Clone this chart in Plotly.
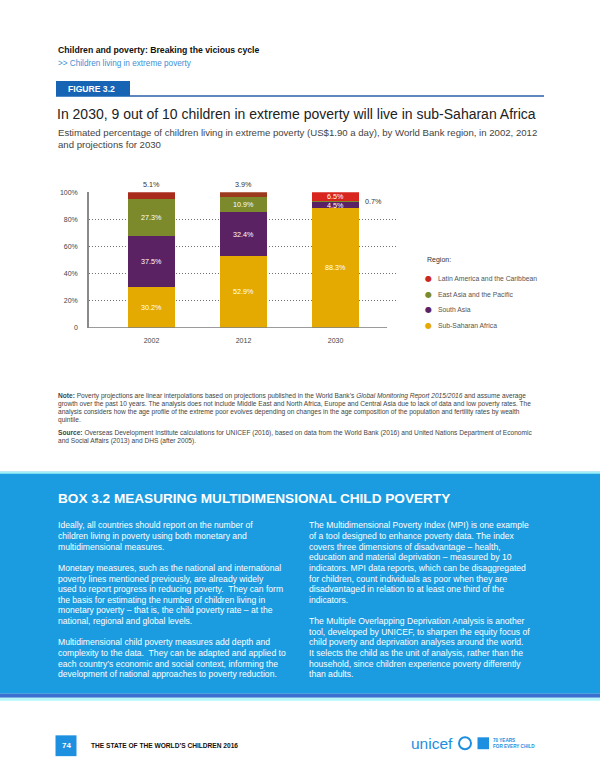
import plotly.graph_objects as go

W, H = 600, 776

# ---------------- data ----------------
years = ["2002", "2012", "2030"]
regions = ["Sub-Saharan Africa", "South Asia", "East Asia and the Pacific",
           "Latin America and the Caribbean"]
ssa = [30.2, 52.9, 88.3]
sa = [37.5, 32.4, 4.5]
eap = [27.3, 10.9, 0.7]
lac = [5.1, 3.9, 6.5]
y_tickvals = [0, 20, 40, 60, 80, 100]
y_ticktext = ["0", "20%", "40%", "60%", "80%", "100%"]

# ---------------- styles ----------------
FONT = "Liberation Sans, Arial, sans-serif"
C_SSA = "#E4AA02"
C_SA = "#5B2263"
C_EAP = "#7C8A2B"
C_LAC = ["#A82B1C", "#9C3A1E", "#D8261E"]
C_LAC_LEG = "#C8281E"
BLUE_BOX = "#1B9BE0"


def X(px):
    return px / W


def Y(py):
    return 1 - py / H


fig = go.Figure()

series = [
    (regions[0], ssa, C_SSA, ["inside"] * 3),
    (regions[1], sa, C_SA, ["inside"] * 3),
    (regions[2], eap, C_EAP, ["inside", "inside", "none"]),
    (regions[3], lac, C_LAC, ["none", "none", "inside"]),
]
for name, vals, col, tpos in series:
    fig.add_trace(go.Bar(
        x=years, y=vals, name=name, width=0.51,
        marker=dict(color=col, line=dict(width=0)),
        texttemplate="%{y:.1f}%", textposition=tpos,
        insidetextanchor="middle", constraintext="none",
        insidetextfont=dict(color="white", size=7.2, family=FONT),
        cliponaxis=False, showlegend=False, hoverinfo="skip",
    ))

annotations = []
# labels above the 2002 and 2012 bars (Latin America and the Caribbean)
for i in range(2):
    total = ssa[i] + sa[i] + eap[i] + lac[i]
    annotations.append(dict(
        x=i, y=min(total, 100), xref="x", yref="y",
        text=f"{lac[i]:.1f}%", showarrow=False, xanchor="center", yanchor="bottom",
        yshift=1, font=dict(size=7.2, color="#333333", family=FONT)))
# small-value label to the right of 2030 bar (East Asia and the Pacific)
annotations.append(dict(
    x=2, y=ssa[2] + sa[2] + eap[2] / 2, xref="x", yref="y",
    text=f"{eap[2]:.1f}%", showarrow=False, xanchor="left", yanchor="middle",
    xshift=27, font=dict(size=7.2, color="#333333", family=FONT)))

# legend drawn from regions list (top to bottom reversed order)
leg_cols = [C_LAC_LEG, C_EAP, C_SA, C_SSA]
annotations.append(dict(x=X(425), y=Y(258.3), xref="paper", yref="paper",
                        text="Region:", showarrow=False, xanchor="left",
                        yanchor="middle",
                        font=dict(size=7, color="#333", family=FONT)))
for i, (reg, col) in enumerate(zip(regions[::-1], leg_cols)):
    yy = 276.7 + 16 * i
    annotations.append(dict(x=X(428), y=Y(yy), xref="paper", yref="paper",
                            text="●", showarrow=False, xanchor="center",
                            yanchor="middle",
                            font=dict(size=8, color=col, family="DejaVu Sans")))
    annotations.append(dict(x=X(435.5), y=Y(yy), xref="paper", yref="paper",
                            text=reg, showarrow=False, xanchor="left",
                            yanchor="middle",
                            font=dict(size=6.8, color="#555", family=FONT)))


def txt(x, y, text, size, color, bold=False, anchor="left", family=FONT):
    if bold:
        text = "<b>" + text + "</b>"
    annotations.append(dict(x=X(x), y=Y(y), xref="paper", yref="paper",
                            text=text, showarrow=False, xanchor=anchor,
                            yanchor="middle",
                            font=dict(size=size, color=color, family=family)))


# header
txt(56, 46.7, "Children and poverty: Breaking the vicious cycle", 8.7, "#111111", bold=True)
txt(56, 60, "&gt;&gt; Children living in extreme poverty", 8.2, "#3E8FD5")
txt(65.5, 85.3, "FIGURE 3.2", 8.6, "white", bold=True)
txt(55, 111, "In 2030, 9 out of 10 children in extreme poverty will live in sub-Saharan Africa",
    14, "#222222")
txt(56, 130, "Estimated percentage of children living in extreme poverty (US$1.90 a day), by World Bank region, in 2002, 2012",
    9.6, "#444444")
txt(56, 141.5, "and projections for 2030", 9.6, "#444444")

# notes
note_lines = [
    "<b>Note:</b> Poverty projections are linear interpolations based on projections published in the World Bank’s <i>Global Monitoring Report 2015/2016</i> and assume average",
    "growth over the past 10 years. The analysis does not include Middle East and North Africa, Europe and Central Asia due to lack of data and low poverty rates. The",
    "analysis considers how the age profile of the extreme poor evolves depending on changes in the age composition of the population and fertility rates by wealth",
    "quintile.",
]
for i, ln in enumerate(note_lines):
    txt(56, 395.5 + 8.25 * i, ln, 6.6, "#444444")
src_lines = [
    "<b>Source:</b> Overseas Development Institute calculations for UNICEF (2016), based on data from the World Bank (2016) and United Nations Department of Economic",
    "and Social Affairs (2013) and DHS (after 2005).",
]
for i, ln in enumerate(src_lines):
    txt(56, 433.3 + 8.0 * i, ln, 6.6, "#444444")

# box
txt(56, 498.5, "BOX 3.2 MEASURING MULTIDIMENSIONAL CHILD POVERTY", 13.6, "white", bold=True)
left_col = [
    "Ideally, all countries should report on the number of",
    "children living in poverty using both monetary and",
    "multidimensional measures.",
    "",
    "Monetary measures, such as the national and international",
    "poverty lines mentioned previously, are already widely",
    "used to report progress in reducing poverty.  They can form",
    "the basis for estimating the number of children living in",
    "monetary poverty – that is, the child poverty rate – at the",
    "national, regional and global levels.",
    "",
    "Multidimensional child poverty measures add depth and",
    "complexity to the data.  They can be adapted and applied to",
    "each country’s economic and social context, informing the",
    "development of national approaches to poverty reduction.",
]
right_col = [
    "The Multidimensional Poverty Index (MPI) is one example",
    "of a tool designed to enhance poverty data. The index",
    "covers three dimensions of disadvantage – health,",
    "education and material deprivation – measured by 10",
    "indicators. MPI data reports, which can be disaggregated",
    "for children, count individuals as poor when they are",
    "disadvantaged in relation to at least one third of the",
    "indicators.",
    "",
    "The Multiple Overlapping Deprivation Analysis is another",
    "tool, developed by UNICEF, to sharpen the equity focus of",
    "child poverty and deprivation analyses around the world.",
    "It selects the child as the unit of analysis, rather than the",
    "household, since children experience poverty differently",
    "than adults.",
]
for i, ln in enumerate(left_col):
    if ln:
        txt(56, 526 + 10.75 * i, ln, 8.6, "white")
for i, ln in enumerate(right_col):
    if ln:
        txt(306.5, 526 + 10.75 * i, ln, 8.6, "white")

# footer
txt(66, 748.5, "74", 8, "white", bold=True, anchor="center")
txt(88.5, 748.5, "THE STATE OF THE WORLD’S CHILDREN 2016", 6.6, "#111111", bold=True)
txt(409, 746, "unicef", 15.5, "#1C8FE0")
txt(490.5, 743.5, "70 YEARS", 4.6, "#1C8FE0", bold=True)
txt(490.5, 749, "FOR EVERY CHILD", 4.6, "#1C8FE0", bold=True)

shapes = [
    # figure tag and rule
    dict(type="rect", xref="paper", yref="paper", x0=X(56), x1=X(130), y0=Y(93.5), y1=Y(77.7),
         fillcolor="#1764B4", line=dict(width=0)),
    dict(type="rect", xref="paper", yref="paper", x0=X(130), x1=X(544), y0=Y(93.6), y1=Y(92.0),
         fillcolor="#2A5FAA", line=dict(width=0)),
    # blue box
    dict(type="rect", xref="paper", yref="paper", x0=0, x1=1, y0=Y(696), y1=Y(472),
         fillcolor=BLUE_BOX, line=dict(width=0)),
    dict(type="rect", xref="paper", yref="paper", x0=0, x1=1, y0=Y(474), y1=Y(472),
         fillcolor="#9EEFF6", line=dict(width=0)),
    dict(type="rect", xref="paper", yref="paper", x0=0, x1=1, y0=Y(700), y1=Y(696),
         fillcolor="#3B70D0", line=dict(width=0)),
    dict(type="rect", xref="paper", yref="paper", x0=0, x1=1, y0=Y(703), y1=Y(700),
         fillcolor="#B4F6FA", line=dict(width=0)),
    # page number box
    dict(type="rect", xref="paper", yref="paper", x0=X(55.5), x1=X(76.5), y0=Y(759), y1=Y(738),
         fillcolor="#1E90E0", line=dict(width=0)),
    # unicef emblem and 70 years mark
    dict(type="circle", xref="paper", yref="paper", x0=X(459), x1=X(471), y0=Y(752), y1=Y(740),
         fillcolor="white", line=dict(color="#1C8FE0", width=2)),
    dict(type="rect", xref="paper", yref="paper", x0=X(477.5), x1=X(489), y0=Y(752), y1=Y(740),
         fillcolor="#1C8FE0", line=dict(width=0)),
    # x axis baseline
    dict(type="line", xref="x", yref="y", x0=-0.679, x1=2.56, y0=0, y1=0,
         line=dict(color="#7A7A7A", width=1.5)),
]

fig.update_layout(
    width=W, height=H,
    margin=dict(l=0, r=0, t=0, b=0, pad=0),
    paper_bgcolor="white", plot_bgcolor="white",
    barmode="stack",
    font=dict(family=FONT, size=7, color="#444"),
    showlegend=False,
    xaxis=dict(domain=[X(89), X(397)], type="category", range=[-0.679, 2.668],
               showgrid=False, showline=False, zeroline=False, ticks="",
               tickfont=dict(size=7, color="#444"), ticklabelstandoff=7,
               fixedrange=True),
    yaxis=dict(domain=[Y(326.7), Y(190)], range=[0, 100],
               tickvals=y_tickvals, ticktext=y_ticktext,
               showgrid=True, gridcolor="#707070", griddash="1px,2px", gridwidth=1,
               showline=True, linecolor="#8A8A8A", linewidth=1.5,
               zeroline=False, ticks="", ticklabelstandoff=8,
               tickfont=dict(size=7, color="#444"), fixedrange=True),
    annotations=annotations,
    shapes=shapes,
)

fig.write_html("out.html", config={"displayModeBar": False},
               post_script="document.body.style.margin='0';"
                           "document.body.style.overflow='hidden';")
